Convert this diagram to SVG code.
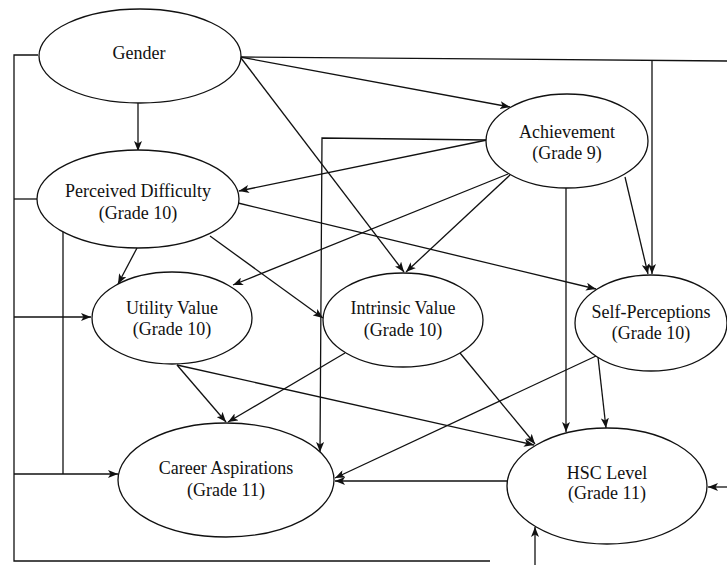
<svg xmlns="http://www.w3.org/2000/svg" width="727" height="565" viewBox="0 0 727 565">
<style>
.n ellipse{fill:#fff;stroke:#111;stroke-width:1.3}
.n text{font-family:"Liberation Serif","Times New Roman",serif;font-size:18px;fill:#111;text-anchor:middle}
#edges path{fill:none;stroke:#111;stroke-width:1.3}
#edges path.a{marker-end:url(#ah)}
</style>
<defs>
<marker id="ah" viewBox="0 0 10 8" refX="10" refY="4" markerWidth="10" markerHeight="8" markerUnits="userSpaceOnUse" orient="auto">
<path d="M0,0 L10,4 L0,8 L2.5,4 z" fill="#111"/>
</marker>
</defs>
<rect width="727" height="565" fill="#fff"/>
<g id="edges">
<path class="a" d="M138,103 L138,151"/>
<path class="a" d="M240,57 L510,107"/>
<path class="a" d="M241,58 L404,272"/>
<path d="M241,57 L727,61"/>
<path class="a" d="M652,60 L652,274"/>
<path class="a" d="M727,487 L708,487"/>
<path d="M38,55 L14,55 L14,561 L490,561"/>
<path d="M14,199 L37,199"/>
<path class="a" d="M14,317 L91,317"/>
<path class="a" d="M14,474 L118,474"/>
<path d="M63,232 L63,474"/>
<path class="a" d="M535,565 L535,527"/>
<path class="a" d="M487,140 L239,191"/>
<path class="a" d="M487,140 L322,138 L320,452"/>
<path class="a" d="M508,174 L233,285"/>
<path class="a" d="M510,175 L406,272"/>
<path class="a" d="M566,188 L566,432"/>
<path class="a" d="M625,177 L648,274"/>
<path class="a" d="M137,248 L118,284"/>
<path class="a" d="M210,236 L323,318"/>
<path class="a" d="M238,203 L596,289"/>
<path class="a" d="M177,365 L226,422"/>
<path class="a" d="M177,365 L534,445"/>
<path class="a" d="M345,353 L228,422"/>
<path class="a" d="M460,353 L535,444"/>
<path class="a" d="M596,356 L335,478"/>
<path class="a" d="M598,357 L606,428"/>
<path class="a" d="M507,481 L335,481"/>
</g>
<g id="gender" class="n"><ellipse cx="140" cy="56" rx="101" ry="47"/><text x="139" y="59">Gender</text></g>
<g id="perceived-difficulty" class="n"><ellipse cx="138" cy="199" rx="101" ry="49"/><text x="138" y="197">Perceived Difficulty</text><text x="138" y="219">(Grade 10)</text></g>
<g id="achievement" class="n"><ellipse cx="567" cy="141" rx="81" ry="47"/><text x="567" y="138">Achievement</text><text x="567" y="159">(Grade 9)</text></g>
<g id="utility-value" class="n"><ellipse cx="172" cy="318" rx="80" ry="46"/><text x="172" y="314">Utility Value</text><text x="172" y="335">(Grade 10)</text></g>
<g id="intrinsic-value" class="n"><ellipse cx="403" cy="320" rx="80" ry="47"/><text x="403" y="314">Intrinsic Value</text><text x="403" y="336">(Grade 10)</text></g>
<g id="self-perceptions" class="n"><ellipse cx="651" cy="323" rx="76" ry="48"/><text x="651" y="318">Self-Perceptions</text><text x="651" y="339">(Grade 10)</text></g>
<g id="career-aspirations" class="n"><ellipse cx="226" cy="480" rx="108" ry="57"/><text x="226" y="474">Career Aspirations</text><text x="226" y="496">(Grade 11)</text></g>
<g id="hsc-level" class="n"><ellipse cx="607" cy="486" rx="100" ry="58"/><text x="607" y="479">HSC Level</text><text x="607" y="499">(Grade 11)</text></g>
</svg>
